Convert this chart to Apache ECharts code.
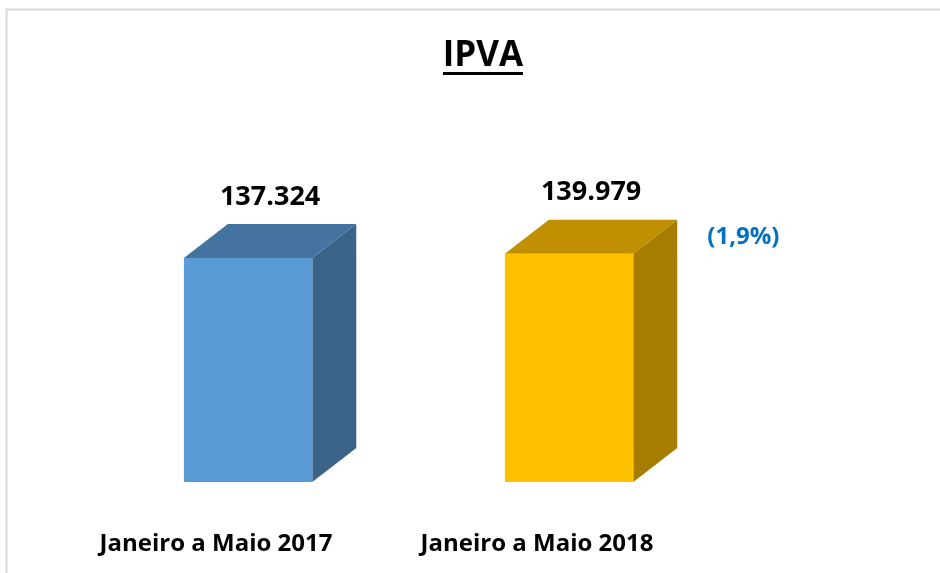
<!DOCTYPE html>
<html>
<head>
<meta charset="utf-8">
<script src="https://cdn.jsdelivr.net/npm/echarts@6/dist/echarts.min.js"></script>
<style>
  html, body { margin: 0; padding: 0; background: #fff; }
  #chart { width: 940px; height: 573px; }
</style>
</head>
<body>
<div id="chart"></div>
<script>
const categorias = ['Janeiro a Maio 2017', 'Janeiro a Maio 2018']
const valores = [137324, 139979]
const rotulos = ['137.324', '139.979']
const notas = ['', '(1,9%)']
const frente = ['#5B9BD5', '#FFC000']
const topo = ['#44739F', '#C09000']
const lado = ['#3A6387', '#A67D00']

const FONT = '"Open Sans", sans-serif'

const myChart = echarts.init(document.getElementById('chart'))
myChart.setOption({
  animation: false,
  grid: {
    left: 55.5,
    width: 642,
    top: 155.8,
    bottom: 91
  },
  graphic: [
    {
      type: 'rect',
      shape: { x: 6.5, y: 9.5, width: 1000, height: 700 },
      style: { fill: 'none', stroke: '#d9d9d9', lineWidth: 2 },
      silent: true
    },
    {
      type: 'text',
      style: {
        text: 'IPVA',
        x: 483,
        y: 56,
        align: 'center',
        verticalAlign: 'middle',
        font: 'bold 35px ' + FONT,
        fill: '#000'
      }
    },
    {
      type: 'rect',
      shape: { x: 443, y: 72, width: 80, height: 3 },
      style: { fill: '#000' }
    }
  ],
  xAxis: {
    type: 'category',
    data: categorias,
    axisLine: { show: false },
    axisTick: { show: false },
    axisLabel: {
      margin: 50,
      color: '#000',
      fontWeight: 'bold',
      fontSize: 24,
      fontFamily: FONT
    }
  },
  yAxis: {
    type: 'value',
    min: 0,
    max: 200000,
    show: false,
    splitLine: { show: false }
  },
  series: [
    {
      type: 'custom',
      data: valores.map((v, i) => [i, v]),
      renderItem (params, api) {
        const i = params.dataIndex
        const top = api.coord([api.value(0), api.value(1)])
        const base = api.coord([api.value(0), 0])
        const band = api.size([1, 0])[0]
        const w = band * 0.4
        const off = band * 0.1
        const dx = band * 0.137
        const dy = 34
        const x0 = top[0] + off - w / 2
        const x1 = x0 + w
        const yt = top[1]
        const yb = base[1]
        const children = [
          {
            type: 'polygon',
            shape: { points: [[x1, yt], [x1 + dx, yt - dy], [x1 + dx, yb - dy], [x1, yb]] },
            style: { fill: lado[i] }
          },
          {
            type: 'polygon',
            shape: { points: [[x0, yt], [x0 + dx, yt - dy], [x1 + dx, yt - dy], [x1, yt]] },
            style: { fill: topo[i] }
          },
          {
            type: 'rect',
            shape: { x: x0, y: yt, width: w, height: yb - yt },
            style: { fill: frente[i] }
          },
          {
            type: 'text',
            style: {
              text: rotulos[i],
              x: (x0 + x1 + dx) / 2,
              y: yt - dy - 27,
              align: 'center',
              verticalAlign: 'middle',
              font: 'bold 27px ' + FONT,
              fill: '#000'
            }
          }
        ]
        if (notas[i]) {
          children.push({
            type: 'text',
            style: {
              text: notas[i],
              x: x1 + dx + 30,
              y: yt - dy / 2,
              align: 'left',
              verticalAlign: 'middle',
              font: 'bold 24px ' + FONT,
              fill: '#0070C0'
            }
          })
        }
        return { type: 'group', children }
      }
    }
  ]
})
</script>
</body>
</html>
